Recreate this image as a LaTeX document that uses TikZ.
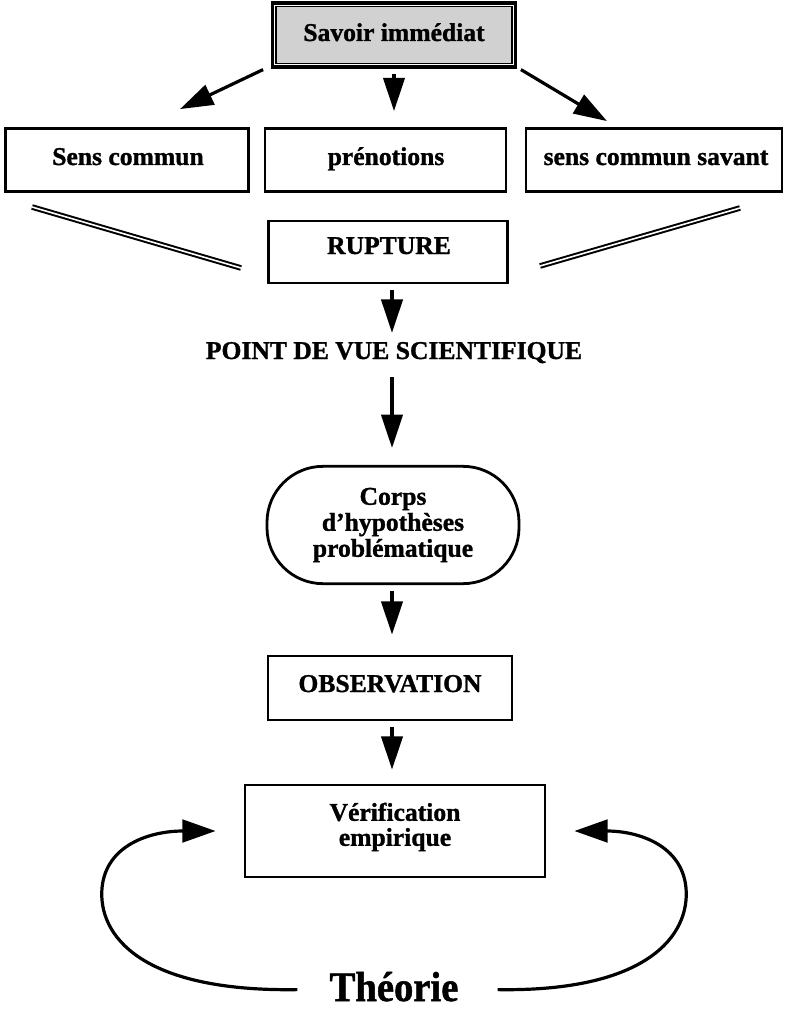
\documentclass[tikz,border=0pt]{standalone}
\usepackage{fontspec}
\setmainfont{Liberation Serif}[BoldFeatures={FakeBold=1.2}]
\newfontfamily\theofont{Liberation Serif}[FakeStretch=0.92,BoldFeatures={FakeBold=1.2}]
\usetikzlibrary{arrows.meta,calc}
\begin{document}
\begin{tikzpicture}[x=0.75pt,y=-0.75pt,
  frame/.style={draw, line width=2.1pt, inner sep=0pt},
  lbl/.style={font=\fontsize{19.2}{19.5}\selectfont\bfseries, anchor=base, inner sep=0pt},
  mlbl/.style={font=\fontsize{19.2}{19.5}\selectfont\bfseries, align=center, inner sep=0pt},
  arr/.style={line width=2.4pt, -{Triangle[length=25pt,width=16pt]}},
  dbl/.style={double=white, double distance=1.2pt, line width=1.5pt},
  curve/.style={line width=2.4pt, -{Triangle[length=25pt,width=17pt]}}
]
\useasboundingbox (0,0) rectangle (790,1009);

% top box
\node[frame, line width=2.4pt, minimum width=182pt, minimum height=48pt] (savoir) at (394,35) {};
\filldraw[fill=black!18, line width=0.9pt] ([shift={(5,5)}]savoir.north west) rectangle ([shift={(-5,-5)}]savoir.south east);
\node[lbl] (savoir-t) at (394,41) {Savoir immédiat};

% row of three boxes
\node[frame, minimum width=182pt, minimum height=47.25pt] (sens) at (127,160) {};
\node[lbl] (sens-t) at (128,165) {Sens commun};
\node[frame, minimum width=180.75pt, minimum height=47.25pt] (pren) at (385.5,160) {};
\node[lbl] (pren-t) at (386,165) {prénotions};
\node[frame, minimum width=192pt, minimum height=47.25pt] (savant) at (654,160) {};
\node[lbl] (savant-t) at (656,165) {sens commun savant};

% rupture
\node[frame, minimum width=179.25pt, minimum height=46.5pt] (rupture) at (388,252) {};
\node[lbl] (rupture-t) at (389,254) {RUPTURE};
\coordinate (dl1) at (32,207);
\coordinate (dl2) at (241,268);
\coordinate (dr1) at (540,266);
\coordinate (dr2) at (740,208);
\draw[dbl] (dl1) -- (dl2);
\draw[dbl] (dr1) -- (dr2);

% point de vue
\node[lbl] (point) at (394,359) {POINT DE VUE SCIENTIFIQUE};

% corps
\node[frame, rounded corners=42pt, minimum width=189pt, minimum height=88pt] (corps) at (393,525) {};
\node[mlbl] (corps-t) at (393,525) {Corps\\d’hypothèses\\problématique};

% observation
\node[frame, minimum width=183pt, minimum height=48pt] (obs) at (390,688) {};
\node[lbl] (obs-t) at (390,692) {OBSERVATION};

% verification
\node[frame, minimum width=225pt, minimum height=69pt] (verif) at (395,831) {};
\node[mlbl, font=\fontsize{19.2}{18.75}\selectfont\bfseries] (verif-t) at (395,827) {Vérification\\empirique};

% theorie
\node[font=\fontsize{31.5}{32}\selectfont\theofont\bfseries, anchor=base, inner sep=0pt] (theorie) at (394,1001) {Théorie};

% arrows
\draw[arr] ([shift={(-8,1)}]savoir.south west) -- ([shift={(53,-18)}]sens.north);
\draw[arr] ([shift={(0,5)}]savoir.south) -- ([shift={(8.5,-16)}]pren.north);
\draw[arr] ([shift={(4,1)}]savoir.south east) -- ([shift={(-47,-6)}]savant.north);
\draw[arr] ([shift={(4,6)}]rupture.south) -- ([shift={(-2,-9)}]point.north);
\draw[arr] ([shift={(-2,14)}]point.south) -- ([shift={(-1,-17)}]corps.north);
\draw[arr] ([shift={(-1,6)}]corps.south) -- ([shift={(2,-20)}]obs.north);
\draw[arr] ([shift={(2,6)}]obs.south) -- ([shift={(-3,-14)}]verif.north);

% theory loops
\draw[curve] ([shift={(-32,3)}]theorie.west) .. controls (140,992) and (98,935) .. (102,888)
  .. controls (106,845) and (150,831) .. ([shift={(-28,0)}]verif.west);
\draw[curve] ([shift={(39,3)}]theorie.east) .. controls (648,992) and (690,935) .. (686,888)
  .. controls (682,845) and (638,831) .. ([shift={(28,0)}]verif.east);
\end{tikzpicture}
\end{document}
